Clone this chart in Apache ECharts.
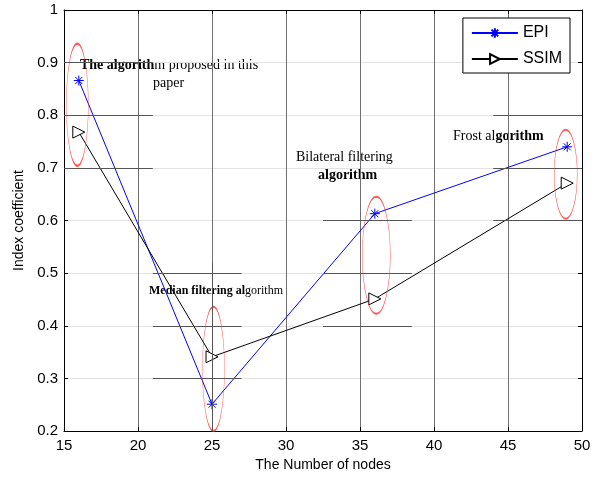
<!DOCTYPE html>
<html>
<head>
<meta charset="utf-8">
<script src="https://cdn.jsdelivr.net/npm/echarts@6/dist/echarts.min.js"></script>
<style>
  html, body { margin: 0; padding: 0; background: #fff; }
  #chart { width: 600px; height: 477px; }
</style>
</head>
<body>
<div id="chart"></div>
<script>
// node counts
const nodes = [16, 25, 36, 49]
const epi = [0.866, 0.251, 0.613, 0.740]
const ssim = [0.768, 0.341, 0.451, 0.671]
// red ellipses: [x, centre y, width px, height px]
const ellipses = [
  [15.9, 0.82, 22, 122],
  [25.1, 0.318, 22, 124],
  [36.1, 0.534, 28, 117],
  [48.9, 0.688, 23, 89]
]
// darker grid fragments left over in the figure: [x0, y0, x1, y1]
const patches = [
  [15, 0.9, 21, 0.9], [15, 0.8, 21, 0.8], [15, 0.7, 21, 0.7],
  [21, 0.5, 27, 0.5], [21, 0.4, 27, 0.4], [21, 0.3, 27, 0.3],
  [25, 0.2, 25, 0.52],
  [32.5, 0.6, 38.5, 0.6], [32.5, 0.5, 38.5, 0.5], [32.5, 0.4, 38.5, 0.4],
  [44, 0.8, 50, 0.8], [44, 0.7, 50, 0.7], [44, 0.6, 50, 0.6]
]

const chart = echarts.init(document.getElementById('chart'))
const asterisk = 'path://M0,5L10,5M5,0L5,10M1.5,1.5L8.5,8.5M8.5,1.5L1.5,8.5'
const ellipsePath = 'path://M0,50A50,50,0,1,1,100,50A50,50,0,1,1,0,50Z'
const serif = '"Liberation Serif", "DejaVu Serif", serif'
const boldRich = { b: { fontWeight: 'bold', fontFamily: serif, fontSize: 14 } }

function note(left, top, text, size) {
  return {
    type: 'text', left, top,
    style: {
      text, fill: '#000', fontFamily: serif, fontSize: size || 14,
      rich: { b: { fontWeight: 'bold', fontFamily: serif, fontSize: size || 14 } }
    }
  }
}

const tickOnly = {
  axisLine: { lineStyle: { color: '#000' } },
  axisTick: { inside: true, length: 4, lineStyle: { color: '#000' } },
  axisLabel: { show: false },
  splitLine: { show: false }
}

chart.setOption({
  animation: false,
  textStyle: { fontFamily: '"Liberation Sans", Arial, sans-serif' },
  grid: { left: 64, right: 18, top: 10, bottom: 46 },
  legend: {
    right: 30, top: 18, orient: 'vertical',
    data: ['EPI', 'SSIM'],
    borderColor: '#000', borderWidth: 1,
    padding: [7, 8, 6, 8], itemGap: 10,
    itemWidth: 46, itemHeight: 12,
    backgroundColor: '#fff',
    textStyle: { fontSize: 16, color: '#000' }
  },
  xAxis: [{
    type: 'value', min: 15, max: 50, interval: 5,
    name: 'The Number of nodes', nameLocation: 'middle', nameGap: 26,
    nameTextStyle: { fontSize: 14, color: '#000' },
    axisLine: { lineStyle: { color: '#000' } },
    axisTick: { inside: true, length: 4, lineStyle: { color: '#000' } },
    axisLabel: { fontSize: 15, color: '#000', margin: 7 },
    splitLine: { show: true, lineStyle: { color: '#707070' } }
  }, {
    type: 'value', min: 15, max: 50, interval: 5, position: 'top', ...tickOnly
  }],
  yAxis: [{
    type: 'value', min: 0.2, max: 1, interval: 0.1,
    name: 'Index coefficient', nameLocation: 'middle', nameGap: 37,
    nameTextStyle: { fontSize: 14, color: '#000' },
    axisLine: { show: true, lineStyle: { color: '#000' } },
    axisTick: { show: true, inside: true, length: 4, lineStyle: { color: '#000' } },
    axisLabel: { fontSize: 15, color: '#000', margin: 6, formatter: v => (v === 1 ? '1' : v.toFixed(1)) },
    splitLine: { show: true, lineStyle: { color: '#e2e2e2' } }
  }, {
    type: 'value', min: 0.2, max: 1, interval: 0.1, position: 'right', ...tickOnly,
    axisLine: { show: true, lineStyle: { color: '#000' } },
    axisTick: { show: true, inside: true, length: 4, lineStyle: { color: '#000' } }
  }],
  series: [
    {
      name: 'patches', type: 'line', data: [], silent: true,
      markLine: {
        symbol: 'none', silent: true, label: { show: false },
        lineStyle: { color: '#555', type: 'solid', width: 1 },
        data: patches.map(p => [{ coord: [p[0], p[1]] }, { coord: [p[2], p[3]] }])
      }
    },
    {
      name: 'EPI', type: 'line',
      data: nodes.map((n, i) => [n, epi[i]]),
      symbol: asterisk, symbolSize: 10,
      lineStyle: { color: '#0000ff', width: 1 },
      itemStyle: { color: '#0000ff', borderColor: '#0000ff', borderWidth: 1 },
      z: 3
    },
    {
      name: 'SSIM', type: 'line',
      data: nodes.map((n, i) => [n, ssim[i]]),
      symbol: 'triangle', symbolSize: 12, symbolRotate: -90,
      lineStyle: { color: '#000', width: 1 },
      itemStyle: { color: '#fff', borderColor: '#000', borderWidth: 1 },
      z: 3
    },
    {
      name: 'ellipse', type: 'scatter', silent: true,
      data: ellipses.map(e => ({ value: [e[0], e[1]], symbolSize: [e[2], e[3]] })),
      symbol: ellipsePath,
      itemStyle: { color: 'none', borderColor: '#ff3030', borderWidth: 1 },
      z: 4
    }
  ],
  graphic: [
    note(80, 58, '{b|The algorith}m proposed in this'),
    note(153, 76, 'paper'),
    note(149, 285, '{b|Median filtering al}gorithm', 12),
    note(296, 150, 'Bilateral filtering'),
    note(318, 168, '{b|algorithm}'),
    note(453, 129, 'Frost al{b|gorithm}')
  ]
})
</script>
</body>
</html>
